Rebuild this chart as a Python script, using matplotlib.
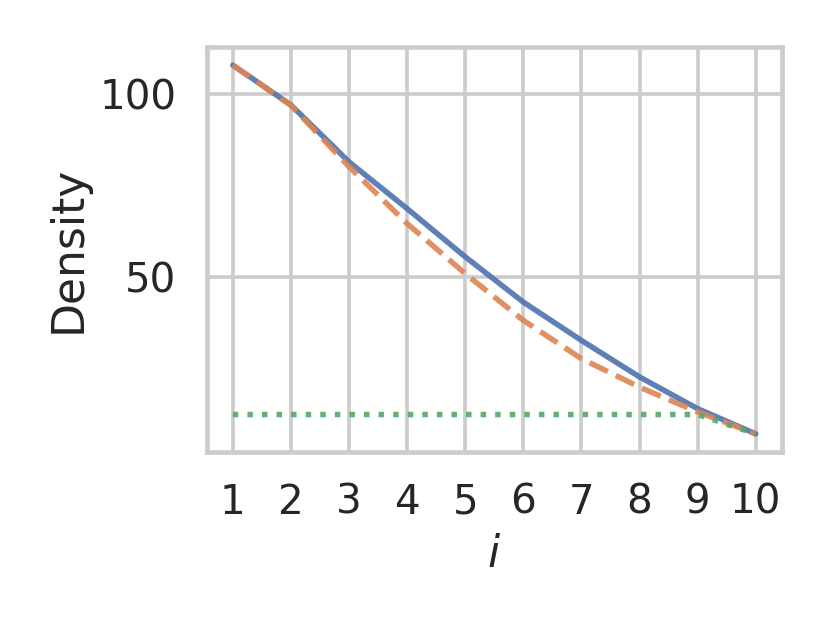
import numpy as np
import matplotlib
matplotlib.use('Agg')
import matplotlib.pyplot as plt
import seaborn as sns

# values
i_vals = [1, 2, 3, 4, 5, 6, 7, 8, 9, 10]
density_solid = [108.0, 97.1, 81.5, 68.7, 55.5, 43.1, 32.6, 22.6, 13.9, 7.0]
density_dashed = [108.0, 97.0, 80.2, 64.6, 50.9, 38.1, 27.6, 19.8, 13.0, 7.0]
density_dotted = [12.3, 12.3, 12.3, 12.3, 12.3, 12.3, 12.3, 12.3, 12.3, 7.0]

sns.set_theme(context='talk', style='whitegrid')

DPI = 176
fig, ax = plt.subplots(figsize=(830 / DPI, 623 / DPI), dpi=DPI)
ax.plot(i_vals, density_solid, '-', alpha=0.9)
ax.plot(i_vals, density_dashed, '--', alpha=0.9)
ax.plot(i_vals, density_dotted, ':', alpha=0.9)

ax.set_xticks(i_vals)
ax.set_yticks([50, 100])
ax.set_xlabel('$i$')
ax.set_ylabel('Density')

fig.subplots_adjust(left=0.249, right=0.942, bottom=0.274, top=0.925)
fig.savefig('out.png', dpi=DPI)
